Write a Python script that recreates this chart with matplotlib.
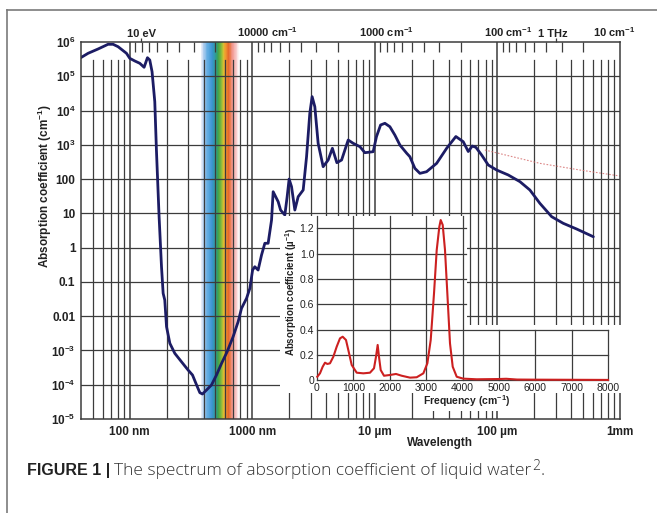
import matplotlib
matplotlib.use('Agg')
import matplotlib.pyplot as plt
import numpy as np
from matplotlib.colors import LinearSegmentedColormap
from matplotlib.patches import Polygon
from matplotlib.lines import Line2D
from matplotlib.ticker import NullLocator
import matplotlib.transforms as mtransforms

plt.rcParams['font.family'] = ['Liberation Sans', 'DejaVu Sans']
plt.rcParams['mathtext.fontset'] = 'custom'
plt.rcParams['mathtext.rm'] = 'Liberation Sans:bold'
plt.rcParams['mathtext.it'] = 'Liberation Sans:bold'
plt.rcParams['mathtext.bf'] = 'Liberation Sans:bold'

# ---------------- data ----------------
wavelength_nm = [39.8, 45.7, 55.1, 66.5, 73.1, 80.3, 94, 100, 110, 120.7,
                 130.9, 139.4, 145.6, 152, 160, 165, 173.5, 181.5, 187.2, 193,
                 199.5, 212.4, 233, 264, 299, 325, 351, 373, 392, 423,
                 464, 510, 561, 623, 697, 766, 816, 897, 955, 1005,
                 1048, 1115, 1189, 1265, 1346, 1435, 1479, 1625, 1700, 1842,
                 1924, 1996, 2089, 2223, 2366, 2600, 2770, 2944, 3076, 3236,
                 3444, 3784, 4157, 4500, 4895, 5350, 6055, 6655, 7550, 8285,
                 9685, 10300, 11130, 12070, 13250, 14550, 16000, 18200, 19300, 21200,
                 23300, 26400, 31900, 38500, 45800, 52600, 57800, 62300, 66700, 74300,
                 84100, 98500, 122400, 152700, 184000, 222000, 277000, 344000, 443000, 606000]
absorption_cm = [3.48e5, 4.68e5, 6.25e5, 8.57e5, 8.57e5, 7.29e5, 4.68e5, 3.34e5, 2.79e5, 2.39e5,
                 1.83e5, 3.48e5, 2.98e5, 1.36e5, 1.81e4, 706, 8.0, 0.278, 0.0465, 0.0296,
                 4.93e-3, 1.61e-3, 8.24e-4, 4.69e-4, 2.69e-4, 1.92e-4, 9.8e-5, 5.85e-5, 5.36e-5, 7.0e-5,
                 9.8e-5, 1.92e-4, 4.2e-4, 9.2e-4, 2.52e-3, 6.9e-3, 0.0169, 0.0332, 0.065, 0.222,
                 0.277, 0.222, 0.61, 1.34, 1.34, 6.4, 42.8, 21.9, 12.5, 8.95,
                 30.6, 100, 60, 12.5, 30.6, 48, 450, 8300, 2.54e4, 1.29e4,
                 1106, 230, 360, 791, 301, 360, 1380, 1106, 881, 589,
                 630, 1727, 3786, 4246, 3377, 1932, 986, 565, 450, 206,
                 147, 164, 288, 791, 1746, 1232, 638, 923, 845, 504,
                 258, 184, 132, 84, 48, 19.6, 8.0, 5.13, 3.49, 2.08]

dotted_wavelength_nm = [79000, 222000, 471000, 1000000]
dotted_absorption = [706, 288, 184, 123]

inset_freq = [8, 82, 156, 220, 284, 357, 449, 541, 632, 706,
              797, 861, 954, 1091, 1274, 1457, 1567, 1622, 1668, 1704,
              1751, 1842, 2007, 2172, 2328, 2557, 2741, 2924, 3034, 3126,
              3217, 3291, 3363, 3401, 3456, 3519, 3583, 3656, 3731, 3841,
              4022, 4390, 5000, 5200, 5500, 6000, 7000, 8000]
inset_absorption = [0.028, 0.055, 0.107, 0.139, 0.129, 0.134, 0.186, 0.265, 0.331, 0.344,
                    0.318, 0.239, 0.121, 0.060, 0.055, 0.060, 0.095, 0.186, 0.279, 0.186,
                    0.081, 0.036, 0.042, 0.050, 0.036, 0.021, 0.024, 0.055, 0.134, 0.318,
                    0.687, 1.028, 1.212, 1.265, 1.226, 1.028, 0.687, 0.292, 0.107, 0.028,
                    0.013, 0.008, 0.01, 0.012, 0.006, 0.005, 0.004, 0.003]

ytick_values = [1e-5, 1e-4, 1e-3, 1e-2, 1e-1, 1, 10, 100, 1e3, 1e4, 1e5, 1e6]
ytick_labels = ['10$^{-5}$', '10$^{-4}$', '10$^{-3}$', '0.01', '0.1', '1', '10', '100',
                '10$^{3}$', '10$^{4}$', '10$^{5}$', '10$^{6}$']
xtick_values = [100, 1e3, 1e4, 1e5, 1e6]
xtick_labels = ['100 nm', '1000 nm', '10 \u00b5m', '100 \u00b5m', '1mm']

top_labels = ['10 eV', '10000 cm$^{-1}$', '1000 cm$^{-1}$', '100 cm$^{-1}$', '1 THz', '10 cm$^{-1}$']
top_label_nm = [1239.84 / 10, 1e3, 1e4, 1e5, 299792.458, 1e6]
top_label_dx = [0, 15, 11, 11, -3, -6]

inset_xticks = [0, 1000, 2000, 3000, 4000, 5000, 6000, 7000, 8000]
inset_yticks = [0, 0.2, 0.4, 0.6, 0.8, 1.0, 1.2]
inset_ylabels = ['0', '0.2', '0.4', '0.6', '0.8', '1.0', '1.2']

spectrum_stops_nm = [380, 400, 430, 470, 505, 525, 560, 580, 600, 640, 690, 740, 780]
spectrum_colors = ['#eef0fa', '#b0cdee', '#62ace2', '#3a94d2', '#2e9c8e', '#3ea24a', '#86ba3c',
                   '#d4c032', '#f0a030', '#e66a2a', '#f29a92', '#f8cccc', '#ffffff']

# ---------------- figure ----------------
W, H = 657, 513
fig = plt.figure(figsize=(W / 100, H / 100), dpi=100)


def fx(px):
    return px / W


def fy(py):
    return 1 - py / H


GRID = '#3c3c3c'
NAVY = '#1c1c64'

ax = fig.add_axes([fx(81), fy(419), fx(620) - fx(81), fy(42) - fy(419)])
ax.set_xscale('log')
ax.set_yscale('log')
ax.set_xlim(40, 1e6)
ax.set_ylim(1e-5, 1e6)

# visible spectrum band
pos = [(w - spectrum_stops_nm[0]) / (spectrum_stops_nm[-1] - spectrum_stops_nm[0]) for w in spectrum_stops_nm]
cmap = LinearSegmentedColormap.from_list('vis', list(zip(pos, spectrum_colors)))
edges = np.geomspace(spectrum_stops_nm[0], spectrum_stops_nm[-1], 90)
for a, b in zip(edges[:-1], edges[1:]):
    mid = 0.5 * (a + b)
    ax.axvspan(a, b, color=cmap((mid - 380) / 400), lw=0, zorder=0.5)

# grid
for v in 10.0 ** np.arange(-4, 6):
    ax.axhline(v, color=GRID, lw=0.9, zorder=1)
for v in [100, 1e3, 1e4, 1e5]:
    ax.axvline(v, color=GRID, lw=1.1, zorder=1)
for k in range(1, 6):
    for m in range(2, 10):
        xv = m * 10 ** k
        if 40 < xv < 1e6:
            ax.axvline(xv, ymax=0.952, color=GRID, lw=0.9, zorder=1)

for s in ax.spines.values():
    s.set_color(GRID)
    s.set_linewidth(1.1)
    s.set_zorder(4)

# top wavenumber ticks
trans_x = ax.get_xaxis_transform()
wn_ticks = [m * 10 ** k for k in range(1, 5) for m in range(2, 10)]
ax.vlines([1e7 / w for w in wn_ticks], 1 - 10 / 377, 1, transform=trans_x, color=GRID, lw=0.9,
          clip_on=False, zorder=4)
ax.vlines([top_label_nm[0], top_label_nm[4]], 1, 1 + 4 / 377, transform=trans_x, color=GRID,
          lw=0.9, clip_on=False, zorder=4)
for lab, xnm, dx in zip(top_labels, top_label_nm, top_label_dx):
    tr = mtransforms.offset_copy(trans_x, fig=fig, x=dx, y=3, units='dots')
    ax.text(xnm, 1.0, lab, transform=tr, ha='center', va='bottom', fontsize=8,
            fontweight='bold', color='#222222')

# curves
ax.plot(dotted_wavelength_nm, dotted_absorption, color='#d46a6a', lw=0.8,
        ls=(0, (1.5, 1.5)), alpha=0.8, zorder=2)
ax.plot(wavelength_nm, absorption_cm, color=NAVY, lw=2.0, zorder=3,
        solid_joinstyle='round', solid_capstyle='round')

ax.set_yticks(ytick_values)
ax.set_yticklabels(ytick_labels, fontsize=8.5, fontweight='bold', color='#222222')
ax.set_xticks(xtick_values)
ax.set_xticklabels(xtick_labels, fontsize=8.5, fontweight='bold', color='#222222')
ax.xaxis.set_minor_locator(NullLocator())
ax.yaxis.set_minor_locator(NullLocator())
ax.tick_params(axis='both', which='both', length=0)
ax.tick_params(axis='y', pad=4)
ax.tick_params(axis='x', pad=5)

fig.text(fx(45), fy(186), 'Absorption coefficient (cm$^{-1}$)', rotation=90, ha='center',
         va='center', fontsize=8.5, fontweight='bold', color='#222222')
fig.text(fx(440), fy(443), 'Wavelength', ha='center', va='center', fontsize=8.5,
         fontweight='bold', color='#222222')

# white backing for the inset (L-shaped, upper right left open)
poly = Polygon([(fx(280), fy(216)), (fx(467), fy(216)), (fx(467), fy(325)), (fx(622), fy(325)),
                (fx(622), fy(393)), (fx(280), fy(393))], closed=True, transform=fig.transFigure,
               facecolor='white', edgecolor='none', zorder=1)
fig.add_artist(poly)

# inset
axin = fig.add_axes([fx(317), fy(380.3), fx(608) - fx(317), fy(215.6) - fy(380.3)], zorder=2)
axin.set_xlim(0, 8000)
axin.set_ylim(0, 1.3)
axin.patch.set_visible(False)
for s in axin.spines.values():
    s.set_visible(False)
for xv in inset_xticks:
    top = 1.3 if xv <= 4000 else 0.4
    axin.plot([xv, xv], [0, top], color=GRID, lw=0.9, clip_on=False, zorder=1)
for yv in inset_yticks:
    right = 8000 if yv <= 0.4 else 4100
    axin.plot([0, right], [yv, yv], color=GRID, lw=0.9, clip_on=False, zorder=1)
axin.plot(inset_freq, inset_absorption, color='#cc2020', lw=1.5, zorder=3, clip_on=False)
axin.set_xticks(inset_xticks)
axin.set_xticklabels([str(v) for v in inset_xticks])
axin.set_yticks(inset_yticks)
axin.set_yticklabels(inset_ylabels)
axin.tick_params(length=0, labelsize=7.5, labelcolor='#222222', pad=2)

fig.text(fx(467), fy(401), 'Frequency (cm$^{-1}$)', ha='center', va='center', fontsize=7.5,
         fontweight='bold', color='#222222', zorder=3,
         bbox=dict(facecolor='white', edgecolor='none', pad=1.5))
fig.text(fx(291), fy(292), 'Absorption coefficient (\u00b5$^{-1}$)', rotation=90, ha='center',
         va='center', fontsize=7, fontweight='bold', color='#222222', zorder=3)

# frame lines
fig.add_artist(Line2D([fx(7), 1], [fy(10), fy(10)], transform=fig.transFigure, color='#7a7a7a', lw=1.2))
fig.add_artist(Line2D([fx(7), fx(7)], [fy(10), 0], transform=fig.transFigure, color='#7a7a7a', lw=1.2))

# caption
CAP = ['Open Sans', 'Liberation Sans']
r = fig.canvas.get_renderer()
t1 = fig.text(fx(27), fy(475), 'FIGURE 1 |', fontsize=11.5, fontweight='bold', color='#222222',
              va='baseline')
bb = t1.get_window_extent(r)
t2 = fig.text((bb.x1 + 4) / W, fy(475), 'The spectrum of absorption coefficient of liquid water',
              fontsize=12.5, color='#333333', va='baseline', family=CAP, fontweight='light')
bb2 = t2.get_window_extent(r)
t3 = fig.text((bb2.x1 + 0.5) / W, fy(470), '2', fontsize=10, color='#333333', va='baseline',
              family=CAP, fontweight='light')
bb3 = t3.get_window_extent(r)
fig.text((bb3.x1 + 0.5) / W, fy(475), '.', fontsize=12.5, color='#333333', va='baseline',
         family=CAP, fontweight='light')

fig.savefig('out.png', dpi=100)
